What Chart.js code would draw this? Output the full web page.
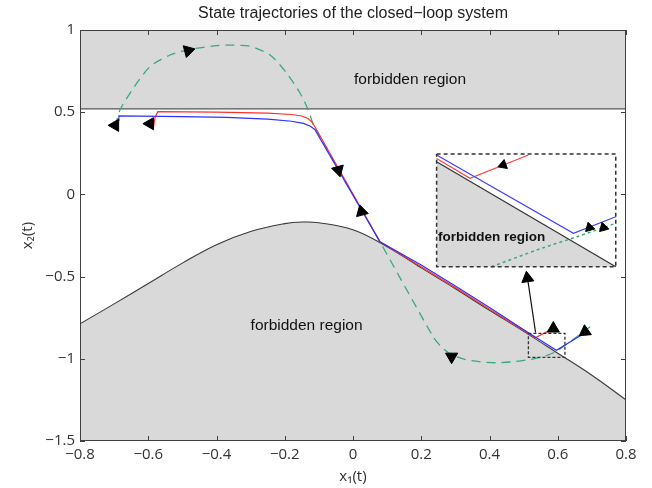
<!DOCTYPE html>
<html>
<head>
<meta charset="utf-8">
<script src="https://cdn.jsdelivr.net/npm/chart.js@4.4.0/dist/chart.umd.min.js"></script>
<style>
  body { margin: 0; background: #fff; }
</style>
</head>
<body>
<canvas id="trayectorias" width="652" height="488"></canvas>
<script>
// limites de los ejes y ticks
var ejeX = [-0.8, 0.8];
var ejeY = [-1.5, 1];
var pasoX = 0.2;
var pasoY = 0.5;

// region prohibida superior (x2 > limiteSup)
var limiteSup = 0.52;

// frontera inferior
var fronteraX = [-0.8, -0.7, -0.6, -0.5, -0.4, -0.3, -0.2, -0.15, -0.1, 0, 0.1, 0.2, 0.3, 0.4, 0.5, 0.6, 0.7, 0.8];
var fronteraY = [-0.787, -0.666, -0.542, -0.418, -0.306, -0.226, -0.178, -0.168, -0.172, -0.215, -0.318, -0.447, -0.574, -0.705, -0.833, -0.966, -1.10, -1.25];

// trayectorias
var rojoX = [-0.585, -0.58, -0.572, -0.4, -0.25, -0.18, -0.15, -0.132, -0.12, -0.11, 0.079, 0.2, 0.3, 0.4, 0.5, 0.534, 0.59];
var rojoY = [0.402, 0.47, 0.503, 0.5, 0.494, 0.486, 0.477, 0.462, 0.44, 0.405, -0.288, -0.44, -0.567, -0.698, -0.826, -0.872, -0.812];

var azulX = [-0.688, -0.686, -0.5, -0.37, -0.25, -0.18, -0.145, -0.125, -0.112, 0.079, 0.2, 0.3, 0.4, 0.514, 0.596, 0.69];
var azulY = [0.45, 0.477, 0.473, 0.469, 0.458, 0.445, 0.432, 0.415, 0.395, -0.288, -0.43, -0.557, -0.688, -0.842, -0.948, -0.83];

var verdeX = [-0.697, -0.683, -0.644, -0.595, -0.536, -0.478, -0.40, -0.35, -0.30, -0.243, -0.194, -0.155, -0.131, -0.115, 0.079, 0.235, 0.26, 0.289, 0.33, 0.38, 0.421, 0.47, 0.519, 0.56, 0.596, 0.695];
var verdeY = [0.412, 0.513, 0.645, 0.777, 0.848, 0.882, 0.905, 0.908, 0.9, 0.848, 0.737, 0.615, 0.513, 0.42, -0.288, -0.866, -0.93, -0.975, -1.005, -1.02, -1.024, -1.018, -1.004, -0.985, -0.955, -0.805];

// flechas (posicion y direccion en grados)
var flechaX = [-0.697, -0.595, -0.483, -0.043, 0.025, 0.289, 0.587, 0.68, 0.511];
var flechaY = [0.42, 0.43, 0.874, 0.148, -0.105, -0.987, -0.816, -0.835, -0.51];
var flechaAng = [270, 270, 195, 165, 345, 180, 0, 235, 352];

// recuadro pequeño y linea hacia el zoom
var cajaX = [0.514, 0.621, 0.621, 0.514, 0.514];
var cajaY = [-0.845, -0.845, -0.991, -0.991, -0.845];
var conectorX = [0.51, 0.535];
var conectorY = [-0.49, -0.84];

// zoom (ampliacion dibujada en coordenadas del grafico principal)
var zoomCajaX = [0.245, 0.77, 0.77, 0.245, 0.245];
var zoomCajaY = [0.246, 0.246, -0.44, -0.44, 0.246];
var zoomFronteraX = [0.245, 0.77];
var zoomFronteraY = [0.199, -0.44];
var zoomRojoX = [0.245, 0.343, 0.514];
var zoomRojoY = [0.219, 0.098, 0.24];
var zoomAzulX = [0.245, 0.646, 0.77];
var zoomAzulY = [0.24, -0.237, -0.136];
var zoomVerdeX = [0.406, 0.55, 0.66, 0.77];
var zoomVerdeY = [-0.44, -0.33, -0.255, -0.176];
var zoomFlechaX = [0.44, 0.693, 0.734];
var zoomFlechaY = [0.179, -0.202, -0.202];
var zoomFlechaAng = [250, 345, 345];

function pares(xs, ys) {
    return xs.map(function (v, i) { return { x: v, y: ys[i] }; });
}

function etiqueta(v) {
    var r = Math.round(v * 10) / 10;
    if (r === 0) return '0';
    return String(r).replace('-', '\u2212');
}

var GRIS = '#d9d9d9';
var fuenteTicks = { family: '"Open Sans", sans-serif', size: 15 };

// textos y marcas del recuadro
var decoracion = {
    id: 'decoracion',
    afterDatasetsDraw: function (chart) {
        var ctx = chart.ctx, a = chart.chartArea;
        var sx = chart.scales.x, sy = chart.scales.y;
        ctx.save();
        ctx.fillStyle = '#111';
        ctx.textAlign = 'center';
        ctx.textBaseline = 'middle';
        ctx.font = '15.5px "Liberation Sans", Arial, sans-serif';
        ctx.fillText('forbidden region', sx.getPixelForValue(0.167), sy.getPixelForValue(0.70));
        ctx.fillText('forbidden region', sx.getPixelForValue(-0.136), sy.getPixelForValue(-0.80));
        ctx.font = 'bold 13.5px "Liberation Sans", Arial, sans-serif';
        ctx.fillText('forbidden region', sx.getPixelForValue(0.406), sy.getPixelForValue(-0.26));

        // marco y ticks hacia dentro
        ctx.strokeStyle = '#404040';
        ctx.lineWidth = 1;
        ctx.strokeRect(a.left + 0.5, a.top + 0.5, a.width - 1, a.height - 1);
        ctx.beginPath();
        sx.ticks.forEach(function (t) {
            var px = Math.round(sx.getPixelForValue(t.value)) + 0.5;
            ctx.moveTo(px, a.bottom); ctx.lineTo(px, a.bottom - 5);
            ctx.moveTo(px, a.top); ctx.lineTo(px, a.top + 5);
        });
        sy.ticks.forEach(function (t) {
            var py = Math.round(sy.getPixelForValue(t.value)) + 0.5;
            ctx.moveTo(a.left, py); ctx.lineTo(a.left + 5, py);
            ctx.moveTo(a.right, py); ctx.lineTo(a.right - 5, py);
        });
        ctx.stroke();
        ctx.restore();
    }
};

function linea(datos, color, ancho, orden, extra) {
    var d = {
        data: datos,
        borderColor: color,
        borderWidth: ancho,
        pointRadius: 0,
        fill: false,
        tension: 0,
        order: orden
    };
    return Object.assign(d, extra || {});
}

var datasets = [
    linea([{ x: ejeX[0], y: limiteSup }, { x: ejeX[1], y: limiteSup }], '#333', 1, 20,
        { fill: 'end', backgroundColor: GRIS }),
    linea(pares(fronteraX, fronteraY), '#3a3a3a', 1.1, 19,
        { fill: 'start', backgroundColor: GRIS, tension: 0.4 }),
    linea(pares(zoomFronteraX, zoomFronteraY), '#333', 1.2, 18,
        { fill: { value: zoomCajaY[2] }, backgroundColor: GRIS }),
    linea(pares(verdeX, verdeY), '#3aa978', 1.3, 9, { borderDash: [9, 6], tension: 0.25 }),
    linea(pares(rojoX, rojoY), '#ff3030', 1.2, 8),
    linea(pares(azulX, azulY), '#3030ff', 1.2, 7),
    linea(pares(zoomVerdeX, zoomVerdeY), '#3aa978', 1.5, 9, { borderDash: [3, 3], tension: 0.3 }),
    linea(pares(zoomRojoX, zoomRojoY), '#ff4040', 1.2, 8),
    linea(pares(zoomAzulX, zoomAzulY), '#4040ff', 1.2, 7),
    linea(pares(zoomCajaX, zoomCajaY), '#333', 1.5, 5, { borderDash: [4, 3] }),
    linea(pares(cajaX, cajaY), '#333', 1.3, 5, { borderDash: [3, 2] }),
    linea(pares(conectorX, conectorY), '#111', 1.2, 5),
    {
        data: pares(flechaX, flechaY),
        showLine: false,
        pointStyle: 'triangle',
        pointRadius: 7,
        pointRotation: flechaAng,
        pointBackgroundColor: '#000',
        pointBorderColor: '#000',
        pointBorderWidth: 1,
        order: 1
    },
    {
        data: pares(zoomFlechaX, zoomFlechaY),
        showLine: false,
        pointStyle: 'triangle',
        pointRadius: 5.5,
        pointRotation: zoomFlechaAng,
        pointBackgroundColor: '#000',
        pointBorderColor: '#000',
        pointBorderWidth: 1,
        order: 1
    }
];

var ctx = document.getElementById('trayectorias').getContext('2d');
var grafico = new Chart(ctx, {
    type: 'line',
    data: { datasets: datasets },
    options: {
        responsive: false,
        animation: false,
        layout: { padding: { top: 0, right: 26, bottom: 0, left: 0 } },
        elements: { point: { radius: 0, hoverRadius: 0 } },
        plugins: {
            legend: { display: false },
            tooltip: { enabled: false },
            title: {
                display: true,
                fullSize: false,
                text: 'State trajectories of the closed\u2212loop system',
                color: '#222',
                font: { family: '"Liberation Sans", Arial, sans-serif', size: 16, weight: 'normal' },
                padding: { top: 4, bottom: 6.8 }
            }
        },
        scales: {
            x: {
                type: 'linear',
                min: ejeX[0],
                max: ejeX[1],
                grid: { display: false, drawTicks: false },
                border: { display: false },
                ticks: { stepSize: pasoX, callback: etiqueta, font: fuenteTicks, color: '#333', padding: 5, maxRotation: 0 },
                title: { display: true, text: 'x\u2081(t)', font: fuenteTicks, color: '#333', padding: { top: 0, bottom: 2 } },
                afterFit: function (s) { s.height = 47; }
            },
            y: {
                type: 'linear',
                min: ejeY[0],
                max: ejeY[1],
                grid: { display: false, drawTicks: false },
                border: { display: false },
                ticks: { stepSize: pasoY, callback: etiqueta, font: fuenteTicks, color: '#333', padding: 5 },
                title: { display: true, text: 'x\u2082(t)', font: fuenteTicks, color: '#333', padding: { top: 19, bottom: 0 } },
                afterFit: function (s) { s.width = 80; }
            }
        }
    },
    plugins: [decoracion]
});
</script>
</body>
</html>
